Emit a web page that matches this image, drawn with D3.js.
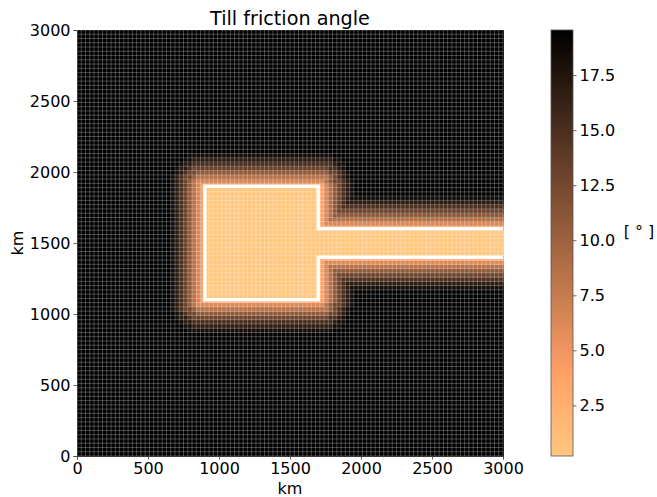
<!DOCTYPE html>
<html>
<head>
<meta charset="utf-8">
<script src="https://cdn.jsdelivr.net/npm/d3@7"></script>
<style>
  body { margin: 0; background: #fff; }
  text { font-family: "DejaVu Sans", sans-serif; fill: #000; }
</style>
</head>
<body>
<svg id="chart" width="657" height="497"></svg>
<script>
// model grid: 100 x 100 cells of 30 km
const cellKm = 30;
const nCells = 100;

// white outline of the low-friction region (km), open at the right edge
const outline = [
  [3000, 1600], [1700, 1600], [1700, 1900], [900, 1900],
  [900, 1100], [1700, 1100], [1700, 1400], [3000, 1400]
];

// friction angle inside the outline, then one value per cell stepping outward
const insideValue = 0.2;
const rampValues = [3.8, 6.2, 8.5, 10.8, 13, 15, 16.8, 18.4, 19.55];

const axisTicks = [0, 500, 1000, 1500, 2000, 2500, 3000];
const colorTicks = [2.5, 5.0, 7.5, 10.0, 12.5, 15.0, 17.5];
const vmin = 0.2, vmax = 19.55;

const svg = d3.select("#chart");

const x = d3.scaleLinear().domain([0, 3000]).range([77, 503]);
const y = d3.scaleLinear().domain([0, 3000]).range([456, 30]);

// copper_r
const color = d3.scaleLinear()
  .domain([vmin, vmin + 0.2 * (vmax - vmin), vmax])
  .range(["#ffc77f", "#ff9f66", "#000000"])
  .clamp(true);

// distance from point to segment
function segDist(p, a, b) {
  let dx = b[0] - a[0], dy = b[1] - a[1];
  let t = ((p[0] - a[0]) * dx + (p[1] - a[1]) * dy) / (dx * dx + dy * dy);
  t = Math.max(0, Math.min(1, t));
  let qx = a[0] + t * dx - p[0], qy = a[1] + t * dy - p[1];
  return Math.sqrt(qx * qx + qy * qy);
}

// build cells
let cells = [];
for (let i = 0; i < nCells; ++i) {
  for (let j = 0; j < nCells; ++j) {
    let c = [(i + 0.5) * cellKm, (j + 0.5) * cellKm];
    let v;
    if (d3.polygonContains(outline, c)) {
      v = insideValue;
    } else {
      let d = Infinity;
      for (let k = 0; k < outline.length - 1; ++k) {
        d = Math.min(d, segDist(c, outline[k], outline[k + 1]));
      }
      let step = Math.max(1, Math.ceil(d / cellKm));
      v = rampValues[Math.min(step, rampValues.length) - 1];
    }
    cells.push({x0: i * cellKm, y0: j * cellKm, v: v});
  }
}

// Heatmap
svg.append("g")
  .attr("shape-rendering", "crispEdges")
  .selectAll("rect")
  .data(cells)
  .join("rect")
  .attr("x", d => x(d.x0))
  .attr("y", d => y(d.y0 + cellKm))
  .attr("width", x(cellKm) - x(0) + 0.5)
  .attr("height", y(0) - y(cellKm) + 0.5)
  .attr("fill", d => color(d.v));

// Mesh lines
let edges = d3.range(0, nCells + 1).map(k => k * cellKm);
let mesh = svg.append("g")
  .attr("stroke", "#fff")
  .attr("stroke-opacity", 0.38)
  .attr("stroke-width", 0.7);
mesh.selectAll(".vl").data(edges).join("line")
  .attr("class", "vl")
  .attr("x1", d => x(d)).attr("x2", d => x(d))
  .attr("y1", y(0)).attr("y2", y(3000));
mesh.selectAll(".hl").data(edges).join("line")
  .attr("class", "hl")
  .attr("y1", d => y(d)).attr("y2", d => y(d))
  .attr("x1", x(0)).attr("x2", x(3000));

// Outline
svg.append("path")
  .datum(outline)
  .attr("fill", "none")
  .attr("stroke", "#fff")
  .attr("stroke-width", 3.5)
  .attr("d", d3.line().x(d => x(d[0])).y(d => y(d[1])));

// Axes
let xAxis = svg.append("g")
  .attr("transform", "translate(0,456)")
  .call(d3.axisBottom(x).tickValues(axisTicks).tickFormat(d3.format("d")).tickSizeOuter(0).tickSize(3.5).tickPadding(3));
let yAxis = svg.append("g")
  .attr("transform", "translate(77,0)")
  .call(d3.axisLeft(y).tickValues(axisTicks).tickFormat(d3.format("d")).tickSizeOuter(0).tickSize(3.5).tickPadding(3));
for (let a of [xAxis, yAxis]) {
  a.select(".domain").attr("stroke", "#444").attr("stroke-width", 0.8);
  a.selectAll(".tick line").attr("stroke", "#444").attr("stroke-width", 0.8);
  a.selectAll(".tick text").style("font-size", "16px").attr("fill", "#000");
}

svg.append("text")
  .attr("x", 290).attr("y", 25)
  .attr("text-anchor", "middle")
  .style("font-size", "19.2px")
  .text("Till friction angle");

svg.append("text")
  .attr("x", 290).attr("y", 494)
  .attr("text-anchor", "middle")
  .style("font-size", "16px")
  .text("km");

svg.append("text")
  .attr("transform", "translate(23,243) rotate(-90)")
  .attr("text-anchor", "middle")
  .style("font-size", "16px")
  .text("km");

// Colorbar
let cb = d3.scaleLinear().domain([vmin, vmax]).range([456, 30]);
let grad = svg.append("defs").append("linearGradient")
  .attr("id", "cbgrad")
  .attr("x1", 0).attr("y1", 1).attr("x2", 0).attr("y2", 0);
grad.selectAll("stop")
  .data(color.domain())
  .join("stop")
  .attr("offset", d => (d - vmin) / (vmax - vmin))
  .attr("stop-color", d => color(d));

svg.append("rect")
  .attr("x", 551).attr("y", 30)
  .attr("width", 22).attr("height", 426)
  .attr("fill", "url(#cbgrad)")
  .attr("stroke", "#555")
  .attr("stroke-width", 0.8);

let cAxis = svg.append("g")
  .attr("transform", "translate(573,0)")
  .call(d3.axisRight(cb).tickValues(colorTicks).tickFormat(d3.format(".1f")).tickSizeOuter(0).tickSize(3.5).tickPadding(3));
cAxis.select(".domain").remove();
cAxis.selectAll(".tick line").attr("stroke", "#444").attr("stroke-width", 0.8);
cAxis.selectAll(".tick text").style("font-size", "16px").attr("fill", "#000");

svg.append("text")
  .attr("x", 639).attr("y", 237)
  .attr("text-anchor", "middle")
  .style("font-size", "16px")
  .text("[ ° ]");
</script>
</body>
</html>
